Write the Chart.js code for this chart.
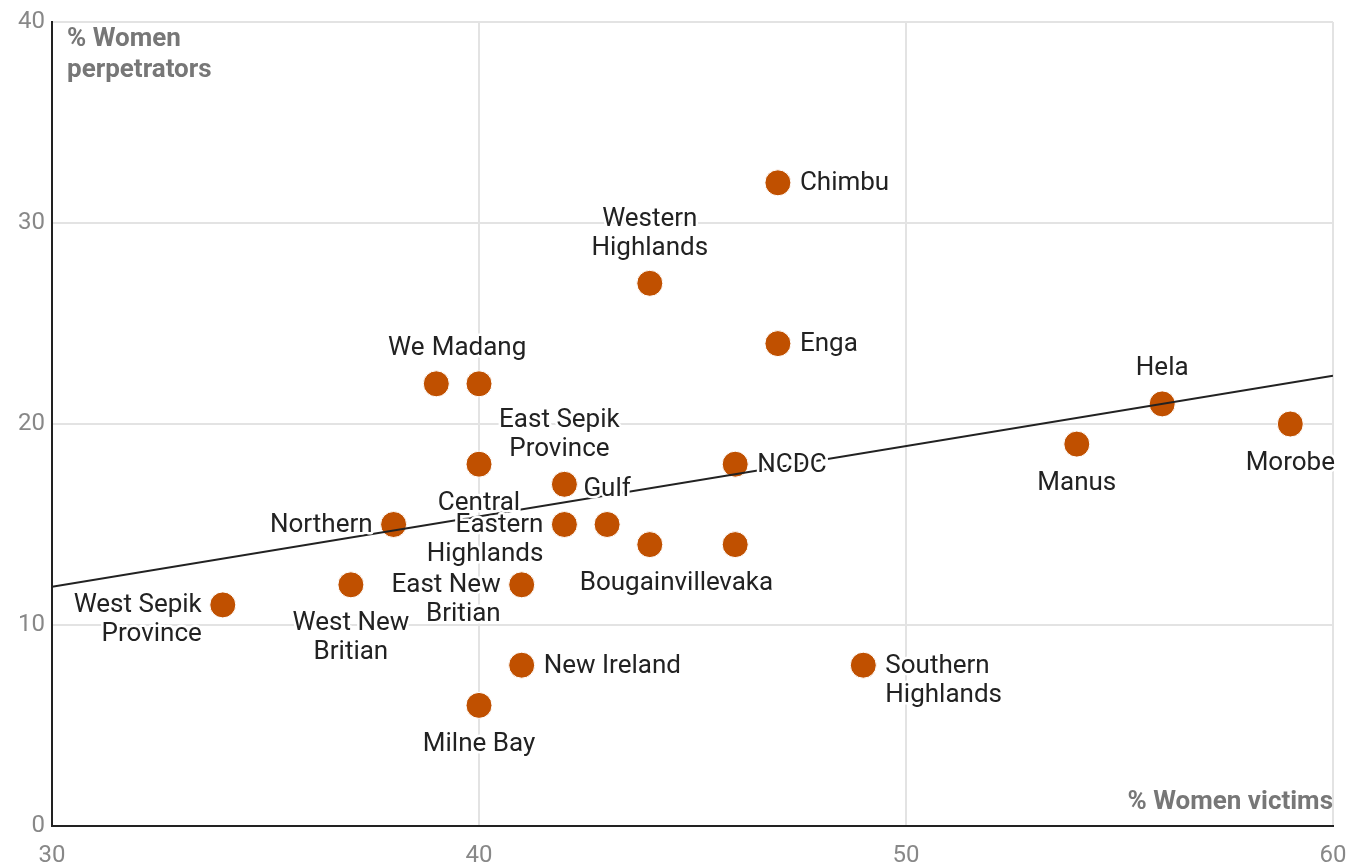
<!DOCTYPE html>
<html>
<head>
<meta charset="utf-8">
<script src="https://cdn.jsdelivr.net/npm/chart.js@4.4.1/dist/chart.umd.min.js"></script>
<style>
  html, body { margin: 0; padding: 0; background: #fff; }
  #wrap { width: 1360px; height: 866px; }
</style>
</head>
<body>
<div id="wrap"><canvas id="scatterChart" width="1360" height="866"></canvas></div>
<script>
// province names as they appear in the picture
const provinces = [
  "Chimbu", "Western\nHighlands", "Enga", "We", "Madang", "Hela", "Morobe", "Manus",
  "Central", "NCDC", "East Sepik\nProvince", "Eastern\nHighlands", "Gulf", "Northern",
  "Bougainville", "vaka", "West New\nBritian", "East New\nBritian", "West Sepik\nProvince",
  "New Ireland", "Southern\nHighlands", "Milne Bay"
];
// % women victims (x)
const victims = [47, 44, 47, 39, 40, 56, 59, 54, 40, 46, 42, 42, 43, 38, 44, 46, 37, 41, 34, 41, 49, 40];
// % women perpetrators (y)
const perpetrators = [32, 27, 24, 22, 22, 21, 20, 19, 18, 18, 17, 15, 15, 15, 14, 14, 12, 12, 11, 8, 8, 6];

// trend line end points
const trendX = [30, 60];
const trendY = [11.9, 22.4];

const xTicks = [30, 40, 50, 60];
const yTicks = [0, 10, 20, 30, 40];

// where each label sits relative to its dot: r, l, t, b (+ small horizontal nudge)
const labelSide = ["r", "t", "r", "t", "t", "t", "b", "b", "b", "r", "t", "l", "t", "l", "b", "b", "b", "l", "l", "r", "r", "b"];
const labelNudge = [0, 0, 0, -30, 0, 0, 0, 0, 0, 0, -5, 0, 0, 0, 0, 11, 0, 0, 0, 0, 0, 0];

const points = victims.map((v, i) => ({ x: v, y: perpetrators[i] }));
const trend = trendX.map((v, i) => ({ x: v, y: trendY[i] }));

const labelPlugin = {
  id: "pointLabels",
  afterDatasetsDraw(chart) {
    const ctx = chart.ctx;
    const meta = chart.getDatasetMeta(1);
    const lh = 29;
    const items = [];
    meta.data.forEach((pt, i) => {
      const lines = provinces[i].split("\n");
      const side = labelSide[i];
      const px = pt.x + labelNudge[i];
      const py = pt.y;
      lines.forEach((line, j) => {
        let x = px, y = py, align = "center";
        if (side === "r") { align = "left"; x = px + 22; y = py + 1 + j * lh; }
        if (side === "l") { align = "right"; x = px - 21; y = py + 1 + j * lh; }
        if (side === "t") { y = py - 35 - (lines.length - 1 - j) * lh; }
        if (side === "b") { y = py + 39 + j * lh; }
        items.push({ line, x, y, align });
      });
    });
    ctx.save();
    ctx.font = "26px Roboto";
    ctx.textBaseline = "middle";
    ctx.lineJoin = "round";
    // halos first, then text
    ctx.strokeStyle = "#fff";
    ctx.lineWidth = 5;
    items.forEach(it => { ctx.textAlign = it.align; ctx.strokeText(it.line, it.x, it.y); });
    ctx.fillStyle = "#222";
    items.forEach(it => { ctx.textAlign = it.align; ctx.fillText(it.line, it.x, it.y); });

    // axis titles inside the plot area
    const area = chart.chartArea;
    ctx.font = "bold 26px Roboto";
    ctx.fillStyle = "#777";
    ctx.textAlign = "left";
    ctx.fillText("% Women", area.left + 15, area.top + 17);
    ctx.fillText("perpetrators", area.left + 15, area.top + 48);
    ctx.textAlign = "right";
    ctx.fillText("% Women victims", area.right, area.bottom - 24);
    ctx.restore();
  }
};

const ctx = document.getElementById("scatterChart").getContext("2d");
new Chart(ctx, {
  type: "scatter",
  data: {
    datasets: [
      {
        type: "line",
        data: trend,
        borderColor: "#222",
        borderWidth: 2,
        pointRadius: 0,
        fill: false
      },
      {
        data: points,
        backgroundColor: "#c05000",
        borderColor: "#fff",
        borderWidth: 1,
        pointRadius: 13,
        pointHoverRadius: 13
      }
    ]
  },
  options: {
    responsive: false,
    animation: false,
    layout: { padding: { top: 22, right: 27, left: 0, bottom: 0 } },
    plugins: {
      legend: { display: false },
      tooltip: { enabled: false }
    },
    scales: {
      x: {
        type: "linear",
        min: 30,
        max: 60,
        afterBuildTicks: axis => { axis.ticks = xTicks.map(v => ({ value: v })); },
        afterFit: axis => { axis.height = 40; axis.paddingLeft = 0; axis.paddingRight = 0; },
        grid: { color: "#e3e3e3", lineWidth: 2, drawTicks: false },
        border: { color: "#222", width: 2 },
        ticks: { color: "#888", font: { family: "Roboto", size: 24 }, padding: 16 }
      },
      y: {
        type: "linear",
        min: 0,
        max: 40,
        afterBuildTicks: axis => { axis.ticks = yTicks.map(v => ({ value: v })); },
        afterFit: axis => { axis.width = 52; axis.paddingTop = 0; axis.paddingBottom = 0; },
        grid: { color: "#e3e3e3", lineWidth: 2, drawTicks: false },
        border: { color: "#222", width: 2 },
        ticks: { color: "#888", font: { family: "Roboto", size: 24 }, padding: 7 }
      }
    }
  },
  plugins: [labelPlugin]
});
</script>
</body>
</html>
